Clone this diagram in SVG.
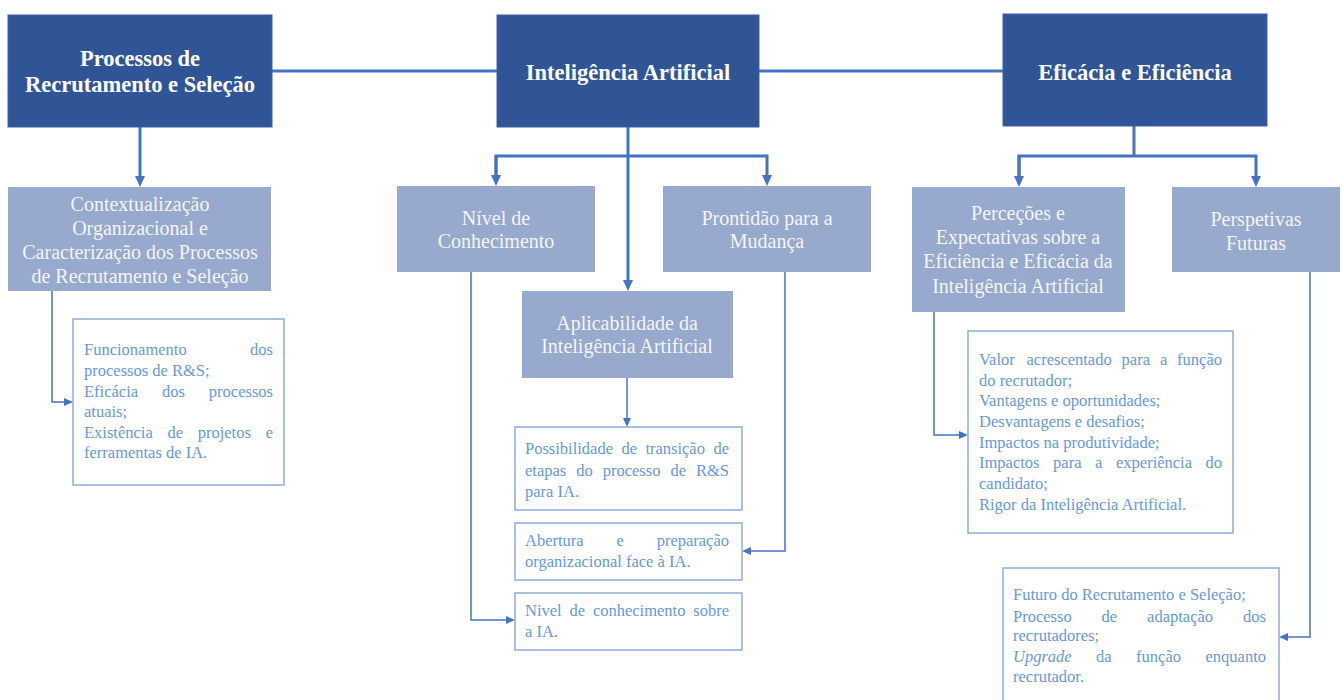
<svg xmlns="http://www.w3.org/2000/svg" width="1343" height="700" viewBox="0 0 1343 700">
<style>
.dark{fill:#2F5597;stroke:#3A62A8;stroke-width:1}
.light{fill:#97A9CD}
.box{fill:#fff;stroke:#8EABDC;stroke-width:1.5}
.t1{font-family:"Liberation Serif","Times New Roman",serif;font-weight:bold;font-size:22.5px;fill:#fff;text-anchor:middle}
.t2{font-family:"Liberation Serif","Times New Roman",serif;font-size:20px;fill:#F3F5FA;text-anchor:middle}
.t3{font-family:"Liberation Serif","Times New Roman",serif;font-size:16.5px;fill:#6698DC}
.e{text-anchor:end}
.main{fill:none;stroke:#4472C4;stroke-width:3}
.thin{fill:none;stroke:#4472C4;stroke-width:1.5}
</style>
<defs>
<marker id="ah" markerUnits="userSpaceOnUse" markerWidth="12" markerHeight="12" refX="4" refY="5" orient="auto">
<path d="M0,0 L11,5 L0,10 z" fill="#4472C4"/>
</marker>
<marker id="as" markerUnits="userSpaceOnUse" markerWidth="10" markerHeight="10" refX="3" refY="4" orient="auto">
<path d="M0,0 L9,4 L0,8 z" fill="#4472C4"/>
</marker>
</defs>

<g id="connectors">
<path class="main" d="M272,71 H497"/>
<path class="main" d="M759,71 H1003"/>
<path class="main" d="M140,127 V180" marker-end="url(#ah)"/>
<path class="main" d="M628,127 V284" marker-end="url(#ah)"/>
<path class="main" d="M496,179 V156 H767 V179" marker-end="url(#ah)"/>
<path class="main" d="M496,156 V179" marker-end="url(#ah)"/>
<path class="main" d="M1134,126 V156"/>
<path class="main" d="M1019,180 V156 H1256 V180" marker-end="url(#ah)"/>
<path class="main" d="M1019,156 V180" marker-end="url(#ah)"/>
<path class="thin" d="M52,291 V402 H67" marker-end="url(#as)"/>
<path class="thin" d="M471,272 V620 H509" marker-end="url(#as)"/>
<path class="thin" d="M785,272 V551 H748" marker-end="url(#as)"/>
<path class="thin" d="M627,378 V421" marker-end="url(#as)"/>
<path class="thin" d="M934,312 V435 H962" marker-end="url(#as)"/>
<path class="thin" d="M1310,272 V637 H1285" marker-end="url(#as)"/>
</g>

<g id="n-processos">
<rect class="dark" x="8" y="15" width="264" height="112"/>
<text class="t1" x="140" y="66">Processos de</text>
<text class="t1" x="140" y="92">Recrutamento e Seleção</text>
</g>
<g id="n-ia">
<rect class="dark" x="497" y="15" width="262" height="112"/>
<text class="t1" x="628" y="80">Inteligência Artificial</text>
</g>
<g id="n-eficacia">
<rect class="dark" x="1003" y="14" width="264" height="112"/>
<text class="t1" x="1135" y="80">Eficácia e Eficiência</text>
</g>

<g id="n-contexto">
<rect class="light" x="8" y="187" width="263" height="104"/>
<text class="t2" x="140" y="211">Contextualização</text>
<text class="t2" x="140" y="235">Organizacional e</text>
<text class="t2" x="140" y="259">Caracterização dos Processos</text>
<text class="t2" x="140" y="283">de Recrutamento e Seleção</text>
</g>
<g id="n-nivel">
<rect class="light" x="397" y="186" width="198" height="86"/>
<text class="t2" x="496" y="225">Nível de</text>
<text class="t2" x="496" y="248">Conhecimento</text>
</g>
<g id="n-prontidao">
<rect class="light" x="663" y="186" width="208" height="86"/>
<text class="t2" x="767" y="225">Prontidão para a</text>
<text class="t2" x="767" y="248">Mudança</text>
</g>
<g id="n-aplicabilidade">
<rect class="light" x="522" y="291" width="211" height="87"/>
<text class="t2" x="627" y="330">Aplicabilidade da</text>
<text class="t2" x="627" y="353">Inteligência Artificial</text>
</g>
<g id="n-percecoes">
<rect class="light" x="912" y="187" width="213" height="125"/>
<text class="t2" x="1018" y="220">Perceções e</text>
<text class="t2" x="1018" y="244">Expectativas sobre a</text>
<text class="t2" x="1018" y="268">Eficiência e Eficácia da</text>
<text class="t2" x="1018" y="293">Inteligência Artificial</text>
</g>
<g id="n-perspetivas">
<rect class="light" x="1172" y="187" width="168" height="85"/>
<text class="t2" x="1256" y="226">Perspetivas</text>
<text class="t2" x="1256" y="250">Futuras</text>
</g>

<g id="n-b1">
<rect class="box" x="73" y="319" width="211" height="166"/>
<text class="t3" x="84" y="355">Funcionamento</text><text class="t3 e" x="273" y="355">dos</text>
<text class="t3" x="84" y="376">processos de R&amp;S;</text>
<text class="t3" y="397"><tspan x="84">Eficácia</tspan><tspan x="162">dos</tspan></text><text class="t3 e" x="273" y="397">processos</text>
<text class="t3" x="84" y="417">atuais;</text>
<text class="t3" y="438"><tspan x="84">Existência</tspan><tspan x="167.4">de</tspan><tspan x="197.7">projetos</tspan></text><text class="t3 e" x="273" y="438">e</text>
<text class="t3" x="84" y="458">ferramentas de IA.</text>
</g>

<g id="n-b2">
<rect class="box" x="515" y="427" width="227" height="83"/>
<text class="t3" y="454"><tspan x="525">Possibilidade</tspan><tspan x="621.4">de</tspan><tspan x="645.4">transição</tspan></text><text class="t3 e" x="729" y="454">de</text>
<text class="t3" y="476"><tspan x="525">etapas</tspan><tspan x="576.2">do</tspan><tspan x="602.7">processo</tspan><tspan x="670.5">de</tspan></text><text class="t3 e" x="729" y="476">R&amp;S</text>
<text class="t3" x="525" y="497">para IA.</text>
</g>
<g id="n-b3">
<rect class="box" x="515" y="523" width="227" height="57"/>
<text class="t3" y="546"><tspan x="525">Abertura</tspan><tspan x="616.5">e</tspan></text><text class="t3 e" x="729" y="546">preparação</text>
<text class="t3" x="525" y="567">organizacional face à IA.</text>
</g>
<g id="n-b4">
<rect class="box" x="515" y="593" width="227" height="57"/>
<text class="t3" y="616"><tspan x="525">Nivel</tspan><tspan x="569.5">de</tspan><tspan x="592.9">conhecimento</tspan></text><text class="t3 e" x="729" y="616">sobre</text>
<text class="t3" x="525" y="637">a IA.</text>
</g>

<g id="n-b5">
<rect class="box" x="968" y="331" width="265" height="202"/>
<text class="t3" y="365"><tspan x="979">Valor</tspan><tspan x="1026.5">acrescentado</tspan><tspan x="1121.6">para</tspan><tspan x="1159.9">a</tspan></text><text class="t3 e" x="1222" y="365">função</text>
<text class="t3" x="979" y="386">do recrutador;</text>
<text class="t3" x="979" y="406">Vantagens e oportunidades;</text>
<text class="t3" x="979" y="427">Desvantagens e desafios;</text>
<text class="t3" x="979" y="448">Impactos na produtividade;</text>
<text class="t3" y="468"><tspan x="979">Impactos</tspan><tspan x="1053.1">para</tspan><tspan x="1095.1">a</tspan><tspan x="1116">experiência</tspan></text><text class="t3 e" x="1222" y="468">do</text>
<text class="t3" x="979" y="489">candidato;</text>
<text class="t3" x="979" y="510">Rigor da Inteligência Artificial.</text>
</g>

<g id="n-b6">
<rect class="box" x="1003" y="568" width="276" height="140"/>
<text class="t3" x="1013" y="600">Futuro do Recrutamento e Seleção;</text>
<text class="t3" y="622"><tspan x="1013">Processo</tspan><tspan x="1101.6">de</tspan><tspan x="1147.1">adaptação</tspan></text><text class="t3 e" x="1266" y="622">dos</text>
<text class="t3" x="1013" y="641">recrutadores;</text>
<text class="t3" y="662"><tspan x="1013" font-style="italic">Upgrade</tspan><tspan x="1096.1">da</tspan><tspan x="1136.1">função</tspan></text><text class="t3 e" x="1266" y="662">enquanto</text>
<text class="t3" x="1013" y="682">recrutador.</text>
</g>
</svg>
